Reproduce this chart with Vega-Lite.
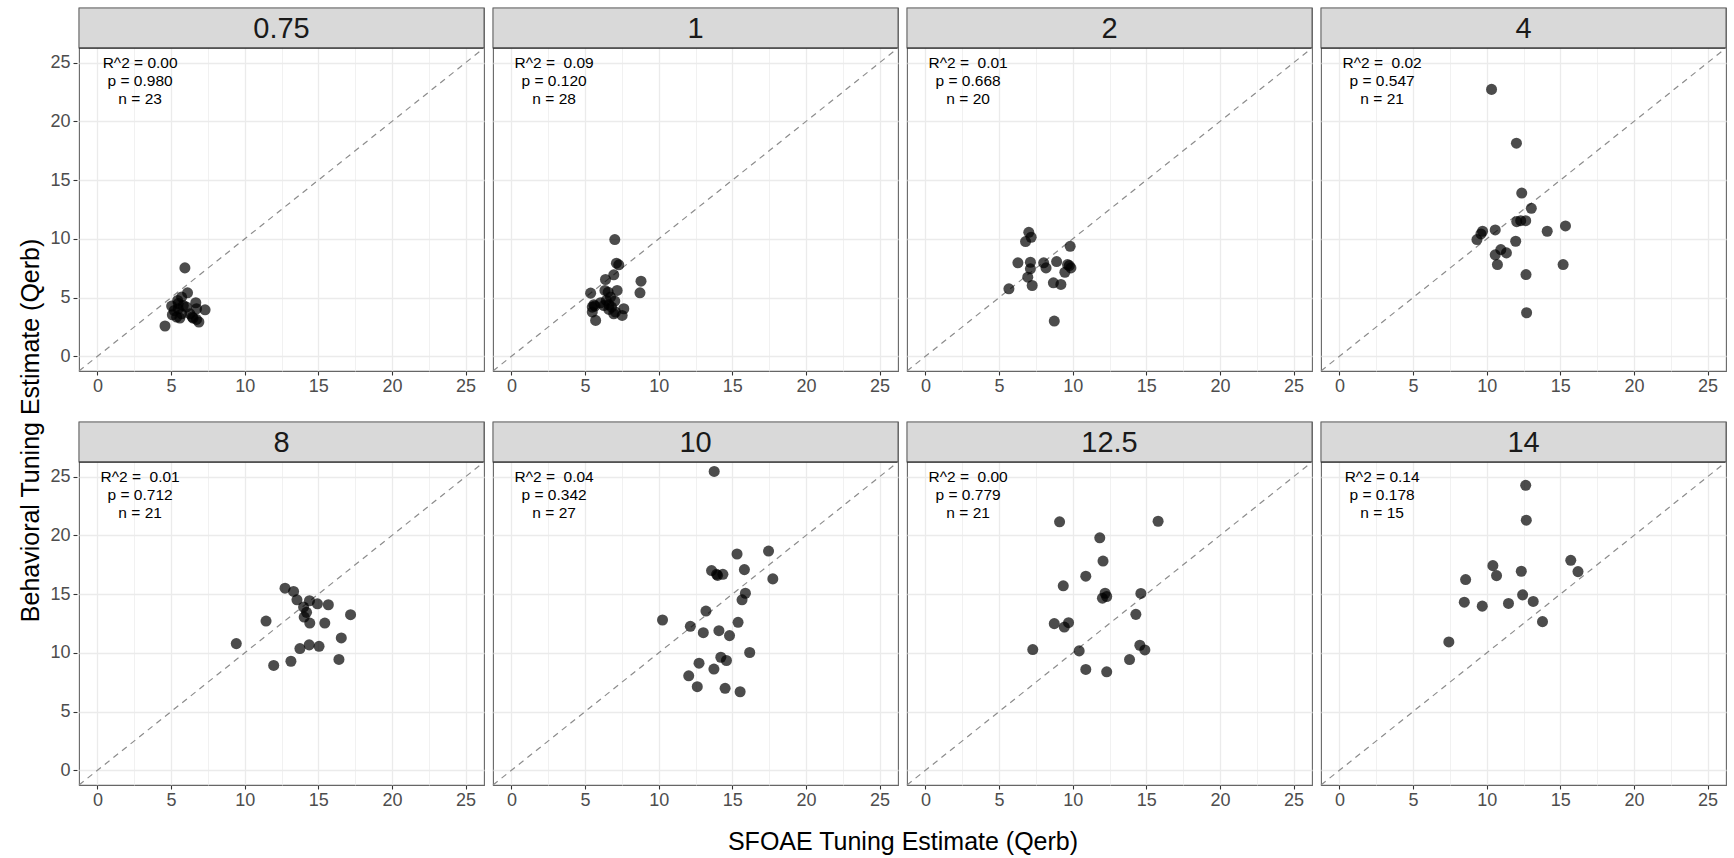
{
  "$schema": "https://vega.github.io/schema/vega-lite/v6.json",
  "padding": {"left": 18, "top": 5, "right": 2, "bottom": 0},
  "background": "white",
  "config": {"font": "Liberation Sans", "view": {"stroke": "#666666", "strokeWidth": 1.1}, "headerFacet": {"labels": false, "labelFontSize": 1, "labelPadding": 0}, "header": {"labels": false, "labelFontSize": 1, "labelPadding": 0}},
  "title": {"text": "Behavioral Tuning Estimate (Qerb)", "orient": "left", "anchor": "middle", "fontSize": 25, "fontWeight": "normal", "color": "black", "offset": 6},
  "data": {"values": [
    {"freq":0.75,"sfoae":5.94,"behav":7.53},{"freq":0.75,"sfoae":6.12,"behav":5.41},{"freq":0.75,"sfoae":5.72,"behav":5.04},{"freq":0.75,"sfoae":5.45,"behav":4.76},{"freq":0.75,"sfoae":5.04,"behav":4.28},{"freq":0.75,"sfoae":5.83,"behav":4.33},{"freq":0.75,"sfoae":6.68,"behav":4.56},{"freq":0.75,"sfoae":6.73,"behav":4.05},{"freq":0.75,"sfoae":7.31,"behav":3.96},{"freq":0.75,"sfoae":5.09,"behav":3.54},{"freq":0.75,"sfoae":5.38,"behav":3.34},{"freq":0.75,"sfoae":5.6,"behav":3.26},{"freq":0.75,"sfoae":6.5,"behav":3.26},{"freq":0.75,"sfoae":6.73,"behav":3.14},{"freq":0.75,"sfoae":6.89,"behav":2.92},{"freq":0.75,"sfoae":4.59,"behav":2.58},{"freq":0.75,"sfoae":5.49,"behav":4.05},{"freq":0.75,"sfoae":5.22,"behav":3.9},{"freq":0.75,"sfoae":6.28,"behav":3.62},{"freq":0.75,"sfoae":5.72,"behav":3.62},{"freq":0.75,"sfoae":5.49,"behav":4.5},{"freq":0.75,"sfoae":6.05,"behav":4.19},{"freq":0.75,"sfoae":6.44,"behav":3.34},
    {"freq":1,"sfoae":7.02,"behav":9.94},{"freq":1,"sfoae":7.13,"behav":7.93},{"freq":1,"sfoae":7.29,"behav":7.79},{"freq":1,"sfoae":6.95,"behav":6.94},{"freq":1,"sfoae":6.39,"behav":6.54},{"freq":1,"sfoae":8.8,"behav":6.4},{"freq":1,"sfoae":8.73,"behav":5.41},{"freq":1,"sfoae":5.38,"behav":5.38},{"freq":1,"sfoae":6.35,"behav":5.61},{"freq":1,"sfoae":6.57,"behav":5.46},{"freq":1,"sfoae":7.18,"behav":5.61},{"freq":1,"sfoae":6.73,"behav":5.04},{"freq":1,"sfoae":6.44,"behav":4.76},{"freq":1,"sfoae":7.02,"behav":4.7},{"freq":1,"sfoae":5.6,"behav":4.39},{"freq":1,"sfoae":5.49,"behav":4.19},{"freq":1,"sfoae":6.05,"behav":4.56},{"freq":1,"sfoae":6.62,"behav":4.39},{"freq":1,"sfoae":6.8,"behav":4.19},{"freq":1,"sfoae":7.63,"behav":4.05},{"freq":1,"sfoae":5.49,"behav":3.77},{"freq":1,"sfoae":6.95,"behav":3.62},{"freq":1,"sfoae":7.52,"behav":3.48},{"freq":1,"sfoae":5.72,"behav":3.06},{"freq":1,"sfoae":6.62,"behav":3.99},{"freq":1,"sfoae":6.28,"behav":4.33},{"freq":1,"sfoae":7.07,"behav":3.77},{"freq":1,"sfoae":5.67,"behav":4.28},
    {"freq":2,"sfoae":7.02,"behav":10.56},{"freq":2,"sfoae":7.18,"behav":10.14},{"freq":2,"sfoae":6.8,"behav":9.77},{"freq":2,"sfoae":9.83,"behav":9.37},{"freq":2,"sfoae":6.28,"behav":7.96},{"freq":2,"sfoae":7.13,"behav":8.01},{"freq":2,"sfoae":8.03,"behav":7.96},{"freq":2,"sfoae":8.91,"behav":8.07},{"freq":2,"sfoae":9.65,"behav":7.81},{"freq":2,"sfoae":9.77,"behav":7.73},{"freq":2,"sfoae":7.13,"behav":7.45},{"freq":2,"sfoae":8.19,"behav":7.53},{"freq":2,"sfoae":9.88,"behav":7.53},{"freq":2,"sfoae":9.47,"behav":7.16},{"freq":2,"sfoae":6.95,"behav":6.74},{"freq":2,"sfoae":8.69,"behav":6.26},{"freq":2,"sfoae":9.2,"behav":6.12},{"freq":2,"sfoae":7.25,"behav":6.03},{"freq":2,"sfoae":5.67,"behav":5.75},{"freq":2,"sfoae":8.75,"behav":3.0},
    {"freq":4,"sfoae":10.33,"behav":22.73},{"freq":4,"sfoae":12.02,"behav":18.15},{"freq":4,"sfoae":12.38,"behav":13.9},{"freq":4,"sfoae":13.03,"behav":12.6},{"freq":4,"sfoae":12.04,"behav":11.47},{"freq":4,"sfoae":12.31,"behav":11.55},{"freq":4,"sfoae":12.65,"behav":11.55},{"freq":4,"sfoae":10.58,"behav":10.76},{"freq":4,"sfoae":15.35,"behav":11.1},{"freq":4,"sfoae":14.11,"behav":10.65},{"freq":4,"sfoae":9.72,"behav":10.65},{"freq":4,"sfoae":9.61,"behav":10.42},{"freq":4,"sfoae":9.34,"behav":9.94},{"freq":4,"sfoae":11.97,"behav":9.8},{"freq":4,"sfoae":10.96,"behav":9.09},{"freq":4,"sfoae":11.34,"behav":8.81},{"freq":4,"sfoae":10.58,"behav":8.64},{"freq":4,"sfoae":10.73,"behav":7.81},{"freq":4,"sfoae":15.19,"behav":7.81},{"freq":4,"sfoae":12.67,"behav":6.96},{"freq":4,"sfoae":12.71,"behav":3.71},
    {"freq":8,"sfoae":12.74,"behav":15.51},{"freq":8,"sfoae":13.32,"behav":15.23},{"freq":8,"sfoae":13.55,"behav":14.52},{"freq":8,"sfoae":14.4,"behav":14.44},{"freq":8,"sfoae":14.94,"behav":14.18},{"freq":8,"sfoae":15.68,"behav":14.1},{"freq":8,"sfoae":14.0,"behav":13.9},{"freq":8,"sfoae":14.2,"behav":13.45},{"freq":8,"sfoae":17.19,"behav":13.25},{"freq":8,"sfoae":14.04,"behav":13.05},{"freq":8,"sfoae":11.45,"behav":12.71},{"freq":8,"sfoae":14.42,"behav":12.54},{"freq":8,"sfoae":15.44,"behav":12.54},{"freq":8,"sfoae":16.56,"behav":11.27},{"freq":8,"sfoae":9.43,"behav":10.79},{"freq":8,"sfoae":14.38,"behav":10.68},{"freq":8,"sfoae":15.05,"behav":10.56},{"freq":8,"sfoae":13.75,"behav":10.37},{"freq":8,"sfoae":16.4,"behav":9.44},{"freq":8,"sfoae":13.14,"behav":9.29},{"freq":8,"sfoae":11.97,"behav":8.93},
    {"freq":10,"sfoae":13.77,"behav":25.45},{"freq":10,"sfoae":15.32,"behav":18.42},{"freq":10,"sfoae":17.46,"behav":18.67},{"freq":10,"sfoae":13.59,"behav":17.01},{"freq":10,"sfoae":13.93,"behav":16.69},{"freq":10,"sfoae":14.36,"behav":16.69},{"freq":10,"sfoae":15.82,"behav":17.09},{"freq":10,"sfoae":17.75,"behav":16.3},{"freq":10,"sfoae":15.89,"behav":15.08},{"freq":10,"sfoae":15.66,"behav":14.52},{"freq":10,"sfoae":13.21,"behav":13.56},{"freq":10,"sfoae":10.26,"behav":12.8},{"freq":10,"sfoae":12.15,"behav":12.26},{"freq":10,"sfoae":15.39,"behav":12.6},{"freq":10,"sfoae":13.03,"behav":11.72},{"freq":10,"sfoae":14.09,"behav":11.89},{"freq":10,"sfoae":14.81,"behav":11.47},{"freq":10,"sfoae":16.18,"behav":10.03},{"freq":10,"sfoae":14.22,"behav":9.63},{"freq":10,"sfoae":14.6,"behav":9.35},{"freq":10,"sfoae":12.74,"behav":9.12},{"freq":10,"sfoae":13.75,"behav":8.62},{"freq":10,"sfoae":12.04,"behav":8.05},{"freq":10,"sfoae":12.62,"behav":7.12},{"freq":10,"sfoae":14.51,"behav":6.98},{"freq":10,"sfoae":15.53,"behav":6.69},{"freq":10,"sfoae":14.0,"behav":16.6},
    {"freq":12.5,"sfoae":9.11,"behav":21.16},{"freq":12.5,"sfoae":15.8,"behav":21.21},{"freq":12.5,"sfoae":11.84,"behav":19.8},{"freq":12.5,"sfoae":12.06,"behav":17.82},{"freq":12.5,"sfoae":10.89,"behav":16.53},{"freq":12.5,"sfoae":9.36,"behav":15.71},{"freq":12.5,"sfoae":12.2,"behav":15.08},{"freq":12.5,"sfoae":12.02,"behav":14.66},{"freq":12.5,"sfoae":12.31,"behav":14.8},{"freq":12.5,"sfoae":14.63,"behav":15.06},{"freq":12.5,"sfoae":14.29,"behav":13.28},{"freq":12.5,"sfoae":8.75,"behav":12.49},{"freq":12.5,"sfoae":9.43,"behav":12.2},{"freq":12.5,"sfoae":9.72,"behav":12.57},{"freq":12.5,"sfoae":7.29,"behav":10.28},{"freq":12.5,"sfoae":10.44,"behav":10.17},{"freq":12.5,"sfoae":14.56,"behav":10.65},{"freq":12.5,"sfoae":14.9,"behav":10.25},{"freq":12.5,"sfoae":13.86,"behav":9.43},{"freq":12.5,"sfoae":10.89,"behav":8.59},{"freq":12.5,"sfoae":12.31,"behav":8.39},
    {"freq":14,"sfoae":12.65,"behav":24.27},{"freq":14,"sfoae":12.69,"behav":21.3},{"freq":14,"sfoae":15.71,"behav":17.88},{"freq":14,"sfoae":16.2,"behav":16.92},{"freq":14,"sfoae":10.42,"behav":17.43},{"freq":14,"sfoae":10.67,"behav":16.58},{"freq":14,"sfoae":12.35,"behav":16.95},{"freq":14,"sfoae":8.57,"behav":16.24},{"freq":14,"sfoae":12.44,"behav":14.94},{"freq":14,"sfoae":13.16,"behav":14.38},{"freq":14,"sfoae":8.48,"behav":14.32},{"freq":14,"sfoae":9.7,"behav":13.98},{"freq":14,"sfoae":11.48,"behav":14.21},{"freq":14,"sfoae":13.79,"behav":12.66},{"freq":14,"sfoae":7.43,"behav":10.93},
    {"freq":0.75,"stats":"R^2 = 0.00\np = 0.980\nn = 23"},
    {"freq":1,"stats":"R^2 = \u00a00.09\np = 0.120\nn = 28"},
    {"freq":2,"stats":"R^2 = \u00a00.01\np = 0.668\nn = 20"},
    {"freq":4,"stats":"R^2 = \u00a00.02\np = 0.547\nn = 21"},
    {"freq":8,"stats":"R^2 = \u00a00.01\np = 0.712\nn = 21"},
    {"freq":10,"stats":"R^2 = \u00a00.04\np = 0.342\nn = 27"},
    {"freq":12.5,"stats":"R^2 = \u00a00.00\np = 0.779\nn = 21"},
    {"freq":14,"stats":"R^2 = 0.14\np = 0.178\nn = 15"}
  ]},
  "facet": {"field": "freq", "type": "ordinal", "sort": "ascending",
    "header": {"labels": false, "labelExpr": "''", "labelFontSize": 1, "labelPadding": 0, "title": "SFOAE Tuning Estimate (Qerb)", "titleOrient": "bottom", "titleFontSize": 25, "titleFontWeight": "normal", "titleColor": "black", "titlePadding": 20}},
  "columns": 4,
  "spacing": {"row": 23, "column": 5},
  "resolve": {"axis": {"x": "independent"}},
  "spec": {
    "width": 405,
    "height": 363,
    "layer": [
      {
        "transform": [{"filter": "isValid(datum.stats)"}],
        "mark": {"type": "rect", "fill": "#D9D9D9", "stroke": "#666666", "strokeWidth": 1.1},
        "encoding": {
          "x": {"datum": -1.25, "type": "quantitative", "scale": {"domain": [-1.25, 26.25], "nice": false, "zero": false}},
          "x2": {"datum": 26.25},
          "y": {"datum": 26.25, "type": "quantitative", "scale": {"domain": [-1.25, 29.66], "nice": false, "zero": false}},
          "y2": {"datum": 29.66}
        }
      },
      {
        "transform": [{"filter": "isValid(datum.stats)"}],
        "mark": {"type": "rule", "color": "#333333", "strokeWidth": 1.2},
        "encoding": {
          "x": {"datum": -1.25, "type": "quantitative", "scale": {"domain": [-1.25, 26.25], "nice": false, "zero": false}},
          "x2": {"datum": 26.25},
          "y": {"datum": 26.25, "type": "quantitative", "scale": {"domain": [-1.25, 29.66], "nice": false, "zero": false}}
        }
      },
      {
        "transform": [{"filter": "isValid(datum.stats)"}],
        "mark": {"type": "rule", "color": "#8C8C8C", "strokeWidth": 1.2, "strokeDash": [6, 5]},
        "encoding": {
          "x": {"datum": -1.25, "type": "quantitative", "scale": {"domain": [-1.25, 26.25], "nice": false, "zero": false}},
          "x2": {"datum": 26.25},
          "y": {"datum": -1.25, "type": "quantitative", "scale": {"domain": [-1.25, 29.66], "nice": false, "zero": false}},
          "y2": {"datum": 26.25}
        }
      },
      {
        "transform": [{"filter": "isValid(datum.sfoae)"}],
        "mark": {"type": "circle", "size": 122, "color": "black", "opacity": 0.7},
        "encoding": {
          "x": {"field": "sfoae", "type": "quantitative",
            "scale": {"domain": [-1.25, 26.25], "nice": false, "zero": false},
            "axis": {"title": null, "values": [0, 2.5, 5, 7.5, 10, 12.5, 15, 17.5, 20, 22.5, 25],
              "labelExpr": "datum.value % 5 === 0 ? datum.label : ''",
              "domain": false, "grid": true, "gridColor": "#EBEBEB",
              "gridWidth": {"condition": {"test": "datum.value % 5 === 0", "value": 1.3}, "value": 0.7},
              "tickColor": "#333333", "tickWidth": 1.1, "tickSize": 4,
              "tickOpacity": {"condition": {"test": "datum.value % 5 === 0", "value": 1}, "value": 0},
              "labelFontSize": 18, "labelColor": "#4D4D4D", "labelPadding": 2, "labelFlush": false, "labelOverlap": false}},
          "y": {"field": "behav", "type": "quantitative",
            "scale": {"domain": [-1.25, 29.66], "nice": false, "zero": false},
            "axis": {"title": null, "values": [0, 2.5, 5, 7.5, 10, 12.5, 15, 17.5, 20, 22.5, 25],
              "labelExpr": "datum.value % 5 === 0 ? datum.label : ''",
              "domain": false, "grid": true, "gridColor": "#EBEBEB",
              "gridWidth": {"condition": {"test": "datum.value % 5 === 0", "value": 1.3}, "value": 0.7},
              "tickColor": "#333333", "tickWidth": 1.1, "tickSize": 4,
              "tickOpacity": {"condition": {"test": "datum.value % 5 === 0", "value": 1}, "value": 0},
              "labelFontSize": 18, "labelColor": "#4D4D4D", "labelPadding": 3, "labelFlush": false, "labelOverlap": false}}
        }
      },
      {
        "transform": [{"filter": "isValid(datum.stats)"}],
        "mark": {"type": "text", "fontSize": 15.5, "lineHeight": 18, "lineBreak": "\n", "align": "center", "baseline": "middle", "color": "black"},
        "encoding": {
          "x": {"datum": 2.9, "type": "quantitative", "scale": {"domain": [-1.25, 26.25], "nice": false, "zero": false}},
          "y": {"datum": 25.0, "type": "quantitative", "scale": {"domain": [-1.25, 29.66], "nice": false, "zero": false}},
          "text": {"field": "stats", "type": "nominal"}
        }
      },
      {
        "transform": [{"filter": "isValid(datum.stats)"}],
        "mark": {"type": "text", "fontSize": 29, "align": "center", "baseline": "middle", "color": "#1A1A1A"},
        "encoding": {
          "x": {"datum": 12.5, "type": "quantitative", "scale": {"domain": [-1.25, 26.25], "nice": false, "zero": false}},
          "y": {"datum": 27.88, "type": "quantitative", "scale": {"domain": [-1.25, 29.66], "nice": false, "zero": false}},
          "text": {"field": "freq", "type": "ordinal"}
        }
      }
    ]
  }
}
